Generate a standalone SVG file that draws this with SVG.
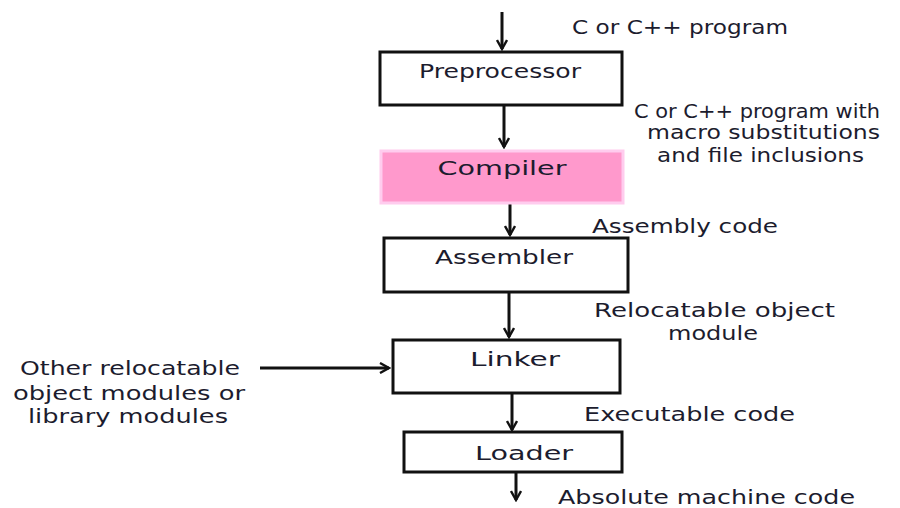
<svg xmlns="http://www.w3.org/2000/svg" width="900" height="508" viewBox="0 0 900 508">
<defs>
<marker id="ah" viewBox="0 0 12 12" refX="10" refY="6" markerWidth="12" markerHeight="12" markerUnits="userSpaceOnUse" orient="auto">
<path d="M1,1 L10,6 L1,11" fill="none" stroke="#111" stroke-width="2.4"/>
</marker>
<style>
.box{fill:#fff;stroke:#111;stroke-width:3}
.t{font-family:"DejaVu Sans","Liberation Sans",sans-serif;font-size:19px;fill:#1c1c2e}
.bt{font-family:"DejaVu Sans","Liberation Sans",sans-serif;font-size:20px;fill:#1c1c2e;text-anchor:middle}
.c{stroke:#111;stroke-width:3;fill:none;marker-end:url(#ah)}
</style>
</defs>
<rect width="900" height="508" fill="#fff"/>
<g id="connectors">
<line class="c" x1="502" y1="12" x2="502" y2="49"/>
<line class="c" x1="504" y1="106" x2="504" y2="147"/>
<line class="c" x1="510" y1="204" x2="510" y2="235"/>
<line class="c" x1="509" y1="293" x2="509" y2="337"/>
<line class="c" x1="260" y1="368" x2="389" y2="368"/>
<line class="c" x1="512" y1="394" x2="512" y2="430"/>
<line class="c" x1="516" y1="473" x2="516" y2="500"/>
</g>
<g id="preprocessor">
<rect class="box" x="380" y="52" width="242" height="53"/>
<text class="bt" x="500" y="78" textLength="162" lengthAdjust="spacingAndGlyphs">Preprocessor</text>
</g>
<g id="compiler">
<rect x="381" y="151" width="242" height="52" fill="#ff99cc" stroke="#ffccee" stroke-width="3"/>
<text class="bt" x="502" y="175" font-size="22" textLength="129" lengthAdjust="spacingAndGlyphs">Compiler</text>
</g>
<g id="assembler">
<rect class="box" x="384" y="238" width="244" height="54"/>
<text class="bt" x="504" y="264" textLength="138" lengthAdjust="spacingAndGlyphs">Assembler</text>
</g>
<g id="linker">
<rect class="box" x="393" y="340" width="227" height="53"/>
<text class="bt" x="515" y="366" textLength="90" lengthAdjust="spacingAndGlyphs">Linker</text>
</g>
<g id="loader">
<rect class="box" x="404" y="432" width="218" height="40"/>
<text class="bt" x="524" y="460" textLength="98" lengthAdjust="spacingAndGlyphs">Loader</text>
</g>
<g id="labels">
<text class="t" x="572" y="34" textLength="216" lengthAdjust="spacingAndGlyphs">C or C++ program</text>
<text class="t" x="634" y="118" textLength="246" lengthAdjust="spacingAndGlyphs">C or C++ program with</text>
<text class="t" x="647" y="139" textLength="233" lengthAdjust="spacingAndGlyphs">macro substitutions</text>
<text class="t" x="657" y="162" textLength="207" lengthAdjust="spacingAndGlyphs">and file inclusions</text>
<text class="t" x="592" y="233" textLength="186" lengthAdjust="spacingAndGlyphs">Assembly code</text>
<text class="t" x="594" y="317" textLength="241" lengthAdjust="spacingAndGlyphs">Relocatable object</text>
<text class="t" x="668" y="340" textLength="90" lengthAdjust="spacingAndGlyphs">module</text>
<text class="t" x="20" y="375" textLength="220" lengthAdjust="spacingAndGlyphs">Other relocatable</text>
<text class="t" x="13" y="400" textLength="232" lengthAdjust="spacingAndGlyphs">object modules or</text>
<text class="t" x="28" y="423" textLength="200" lengthAdjust="spacingAndGlyphs">library modules</text>
<text class="t" x="584" y="421" textLength="211" lengthAdjust="spacingAndGlyphs">Executable code</text>
<text class="t" x="558" y="504" textLength="297" lengthAdjust="spacingAndGlyphs">Absolute machine code</text>
</g>
</svg>
